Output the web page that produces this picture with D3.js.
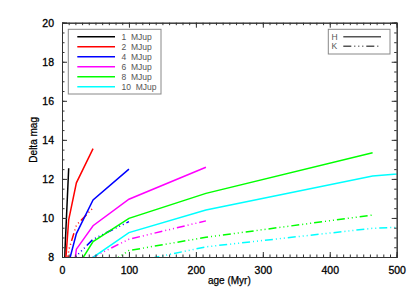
<!DOCTYPE html>
<html lang="en">
<head>
    <meta charset="UTF-8">
    <title>Delta mag vs age</title>
    <script src="https://d3js.org/d3.v7.min.js"></script>
    <style>
        body { margin: 0; background: #fff; }
        svg { display: block; font-family: "Liberation Sans", Arial, sans-serif; }
    </style>
</head>
<body>
    <svg id="chart" width="415" height="297"></svg>
    <script>
        // Model grid ages (Myr), log spaced
        const ages = [2.15, 4.64, 10, 21.5, 46.4, 100, 215, 464, 1000];

        const masses = ['1 MJup', '2 MJup', '4 MJup', '6 MJup', '8 MJup', '10 MJup'];
        const colors = ['#000000', '#ff0000', '#0000ff', '#ff00ff', '#00ff00', '#00ffff'];

        // Delta mag in H band, one per age above (null = no model)
        const magH1  = [5.5, 8.5, 12.55, null, null, null, null, null, null];
        const magH2  = [null, 7.4, 9.9, 11.8, 13.55, null, null, null, null];
        const magH4  = [null, null, 7.7, 9.2, 10.92, 12.5, null, null, null];
        const magH6  = [null, null, 5.5, 8.4, 9.6, 10.96, 12.6, null, null];
        const magH8  = [null, null, null, 7.42, 8.79, 9.98, 11.26, 13.34, null];
        const magH10 = [null, null, null, 6.8, 7.98, 9.25, 10.41, 12.15, 13.6];

        // Delta mag in K band
        const magK1  = [null, null, null, null, null, null, null, null, null];
        const magK2  = [null, 6.5, 8.35, 9.63, 10.52, null, null, null, null];
        const magK4  = [null, null, 6.5, 8.05, 8.91, 9.81, null, null, null];
        const magK6  = [null, null, null, 7.0, 8.0, 8.91, 9.85, null, null];
        const magK8  = [null, null, null, null, 7.14, 8.33, 9.01, 10.15, null];
        const magK10 = [null, null, null, null, null, 7.7, 8.52, 9.47, 10.2];

        const seriesH = [magH1, magH2, magH4, magH6, magH8, magH10];
        const seriesK = [magK1, magK2, magK4, magK6, magK8, magK10];

        const xTicks = [0, 100, 200, 300, 400, 500];
        const yTicks = [8, 10, 12, 14, 16, 18, 20];

        const svg = d3.select('#chart');
        const margin = { top: 22.7, right: 18.3, bottom: 40, left: 62 };
        const W = 415, H = 297;
        const x = d3.scaleLinear().domain([0, 500]).range([margin.left, W - margin.right]);
        const y = d3.scaleLinear().domain([8, 20]).range([H - margin.bottom, margin.top]);

        const axisColor = '#333';

        svg.append('clipPath').attr('id', 'plotClip')
            .append('rect')
            .attr('x', x(0)).attr('y', y(20))
            .attr('width', x(500) - x(0)).attr('height', y(8) - y(20));

        const plot = svg.append('g').attr('clip-path', 'url(#plotClip)');

        const line = d3.line()
            .defined(d => d.mag != null)
            .x(d => x(d.age))
            .y(d => y(d.mag));

        function toPoints(arr) {
            return arr.map((m, i) => ({ age: ages[i], mag: m }));
        }

        const dashK = '8,3,1,3,1,3,1,3';

        seriesK.forEach((s, i) => {
            plot.append('path')
                .datum(toPoints(s))
                .attr('d', line)
                .attr('fill', 'none')
                .attr('stroke', colors[i])
                .attr('stroke-width', 1.5)
                .attr('stroke-dasharray', dashK);
        });
        seriesH.forEach((s, i) => {
            plot.append('path')
                .datum(toPoints(s))
                .attr('d', line)
                .attr('fill', 'none')
                .attr('stroke', colors[i])
                .attr('stroke-width', 1.5);
        });

        // Axes, IDL style: ticks on all four sides pointing inward
        const xMinor = d3.range(0, 501, 10);
        const yMinor = d3.range(8, 20.01, 0.5);

        const bottomAxis = d3.axisBottom(x).tickValues(xMinor).tickSize(-2.5).tickFormat('');
        const topAxis = d3.axisTop(x).tickValues(xMinor).tickSize(-2.5).tickFormat('');
        const leftAxis = d3.axisLeft(y).tickValues(yMinor).tickSize(-2.5).tickFormat('');
        const rightAxis = d3.axisRight(y).tickValues(yMinor).tickSize(-2.5).tickFormat('');

        svg.append('g').attr('transform', `translate(0,${y(8)})`).call(bottomAxis);
        svg.append('g').attr('transform', `translate(0,${y(20)})`).call(topAxis);
        svg.append('g').attr('transform', `translate(${x(0)},0)`).call(leftAxis);
        svg.append('g').attr('transform', `translate(${x(500)},0)`).call(rightAxis);

        // major ticks with labels
        svg.append('g').attr('class', 'major')
            .attr('transform', `translate(0,${y(8)})`)
            .call(d3.axisBottom(x).tickValues(xTicks).tickSize(-5).tickPadding(10).tickFormat(d3.format('d')));
        svg.append('g').attr('class', 'major')
            .attr('transform', `translate(0,${y(20)})`)
            .call(d3.axisTop(x).tickValues(xTicks).tickSize(-5).tickFormat(''));
        svg.append('g').attr('class', 'major')
            .attr('transform', `translate(${x(0)},0)`)
            .call(d3.axisLeft(y).tickValues(yTicks).tickSize(-5).tickPadding(8).tickFormat(d3.format('d')));
        svg.append('g').attr('class', 'major')
            .attr('transform', `translate(${x(500)},0)`)
            .call(d3.axisRight(y).tickValues(yTicks).tickSize(-5).tickFormat(''));

        svg.selectAll('.domain, .tick line').attr('stroke', axisColor).attr('stroke-width', 1);
        svg.selectAll('.tick text')
            .attr('fill', '#000')
            .attr('font-size', 10.5)
            .attr('font-family', '"Liberation Sans", Arial, sans-serif')
            .attr('stroke', '#000').attr('stroke-width', 0.3);

        // axis titles
        svg.append('text')
            .attr('x', (x(0) + x(500)) / 2)
            .attr('y', 284)
            .attr('text-anchor', 'middle')
            .attr('font-size', 10)
            .attr('stroke', '#000').attr('stroke-width', 0.25)
            .text('age (Myr)');
        svg.append('text')
            .attr('transform', `translate(37,${(y(8) + y(20)) / 2}) rotate(-90)`)
            .attr('text-anchor', 'middle')
            .attr('font-size', 10)
            .attr('stroke', '#000').attr('stroke-width', 0.25)
            .text('Delta mag');

        // mass legend
        const leg = svg.append('g');
        leg.append('rect')
            .attr('x', 68.3).attr('y', 29.3).attr('width', 92.7).attr('height', 64.7)
            .attr('fill', '#fff').attr('stroke', '#888').attr('stroke-width', 1);
        masses.forEach((m, i) => {
            const ly = 36.7 + i * 10;
            leg.append('line')
                .attr('x1', 77.3).attr('x2', 115).attr('y1', ly).attr('y2', ly)
                .attr('stroke', colors[i]).attr('stroke-width', 1.5);
            leg.append('text')
                .attr('x', 121.5).attr('y', ly + 3)
                .attr('font-size', 8.5).attr('fill', '#555')
                .style('white-space', 'pre')
                .text(m.replace(' ', '  '));
        });

        // band legend
        const bands = ['H', 'K'];
        const bandDash = [null, dashK];
        const leg2 = svg.append('g');
        leg2.append('rect')
            .attr('x', 328.3).attr('y', 29.3).attr('width', 61.7).attr('height', 24.7)
            .attr('fill', '#fff').attr('stroke', '#888').attr('stroke-width', 1);
        bands.forEach((b, i) => {
            const ly = 36.7 + i * 9.5;
            leg2.append('text')
                .attr('x', 331.5).attr('y', ly + 3)
                .attr('font-size', 8.5).attr('fill', '#555')
                .text(b);
            leg2.append('line')
                .attr('x1', 343.3).attr('x2', 381).attr('y1', ly).attr('y2', ly)
                .attr('stroke', '#555').attr('stroke-width', 1.5)
                .attr('stroke-dasharray', bandDash[i]);
        });
    </script>
</body>
</html>
